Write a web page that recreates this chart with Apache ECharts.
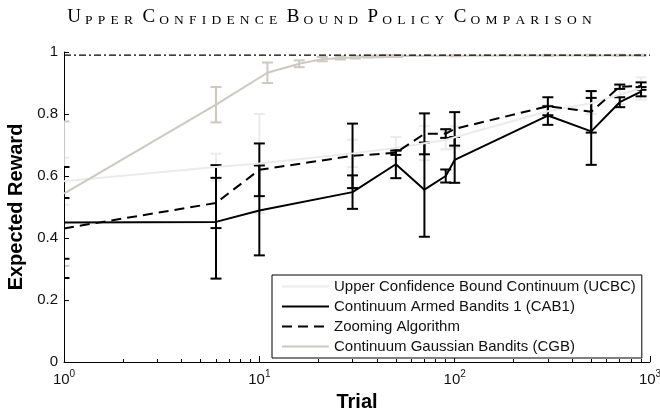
<!DOCTYPE html>
<html>
<head>
<meta charset="utf-8">
<script src="https://cdn.jsdelivr.net/npm/echarts@6/dist/echarts.min.js"></script>
<style>
  html, body { margin: 0; padding: 0; background: #fff; }
  #main { width: 660px; height: 414px; }
</style>
</head>
<body>
<div id="main"></div>
<script>
const titleText = 'Upper Confidence Bound Policy Comparison'

// trials where UCBC, CAB1 and zooming were measured
const trials = [1, 6, 10, 30, 50, 70, 90, 100, 300, 500, 700, 900]
const ucbcMean = [0.583, 0.629, 0.64, 0.673, 0.69, 0.706, 0.716, 0.725, 0.809, 0.835, 0.862, 0.882]
const ucbcErr = [0.076, 0.043, 0.16, 0.044, 0.036, 0.055, 0.03, 0.035, 0.02, 0.035, 0.03, 0.036]
const cab1Mean = [0.45, 0.452, 0.489, 0.548, 0.638, 0.556, 0.6, 0.652, 0.795, 0.744, 0.838, 0.872]
const cab1Err = [0.179, 0.183, 0.145, 0.054, 0.045, 0.152, 0.021, 0.074, 0.03, 0.108, 0.016, 0.015]
const zoomMean = [0.431, 0.513, 0.62, 0.665, 0.675, 0.736, 0.737, 0.752, 0.825, 0.807, 0.888, 0.89]
const zoomErr = [0.098, 0.081, 0.085, 0.104, 0.007, 0.066, 0.014, 0.054, 0.029, 0.067, 0.007, 0.012]

// CGB was sampled on its own grid
const cgbTrials = [1, 6, 11, 16, 21, 26, 31, 36, 41, 46, 51, 101, 301, 501, 701, 900]
const cgbMean = [0.543, 0.83, 0.933, 0.962, 0.977, 0.981, 0.983, 0.985, 0.986, 0.987, 0.987, 0.988, 0.989, 0.989, 0.989, 0.989]
const cgbErr = [0.233, 0.057, 0.033, 0.011, 0.007, 0.005, 0.004, 0.003, 0.003, 0.003, 0.003, 0.002, 0.002, 0.002, 0.002, 0.002]

const optimalReward = 0.99
const optimalTrials = [1, 1000]

const majorTicks = [1, 10, 100, 1000]
const minorTicks = [2, 3, 4, 5, 6, 7, 8, 9, 20, 30, 40, 50, 60, 70, 80, 90, 200, 300, 400, 500, 600, 700, 800, 900]

const UCBC = 'Upper Confidence Bound Continuum (UCBC)'
const CAB1 = 'Continuum Armed Bandits 1 (CAB1)'
const ZOOM = 'Zooming Algorithm'
const CGB = 'Continuum Gaussian Bandits (CGB)'

const SANS = 'Liberation Sans, Arial, Helvetica, sans-serif'
const SERIF = 'Liberation Serif, DejaVu Serif, serif'

// fake small caps with rich text tokens
function smallCaps(text) {
  return text.split(' ').map(word => {
    let s = '{a|' + word[0].toUpperCase() + '}'
    for (let i = 1; i < word.length; i++) {
      s += '{b|' + word[i].toUpperCase() + '}'
    }
    return s
  }).join('{sp| }')
}

function pairs(xs, ys) {
  return xs.map((x, i) => [x, ys[i]])
}

function errData(xs, mean, err) {
  return xs.map((x, i) => [x, mean[i] - err[i], mean[i] + err[i]])
}

function errorBars(name, xs, mean, err, color) {
  return {
    name: name,
    type: 'custom',
    clip: true,
    silent: true,
    data: errData(xs, mean, err),
    encode: { x: 0, y: [1, 2] },
    renderItem: function (params, api) {
      const x = api.value(0)
      const lo = api.coord([x, api.value(1)])
      const hi = api.coord([x, api.value(2)])
      const w = 5.5
      const style = { stroke: color, lineWidth: 2 }
      return {
        type: 'group',
        children: [
          { type: 'line', shape: { x1: lo[0], y1: lo[1], x2: hi[0], y2: hi[1] }, style: style },
          { type: 'line', shape: { x1: lo[0] - w, y1: lo[1], x2: lo[0] + w, y2: lo[1] }, style: style },
          { type: 'line', shape: { x1: hi[0] - w, y1: hi[1], x2: hi[0] + w, y2: hi[1] }, style: style }
        ]
      }
    }
  }
}

function lineSeries(name, xs, ys, color, type) {
  return {
    name: name,
    type: 'line',
    symbol: 'none',
    silent: true,
    data: pairs(xs, ys),
    lineStyle: { color: color, width: 2, type: type || 'solid' },
    itemStyle: { color: color }
  }
}

const chartDom = document.getElementById('main')
const myChart = echarts.init(chartDom, null, { renderer: 'canvas' })

const option = {
  animation: false,
  backgroundColor: '#fff',
  title: {
    text: smallCaps(titleText),
    left: 'center',
    top: 3,
    textStyle: {
      fontWeight: 'normal',
      rich: {
        a: { fontFamily: SERIF, fontSize: 19, fontWeight: 'normal', color: '#000', verticalAlign: 'bottom', padding: [0, 1.5] },
        b: { fontFamily: SERIF, fontSize: 13.5, fontWeight: 'normal', color: '#000', verticalAlign: 'bottom', padding: [0, 2.6] },
        sp: { fontFamily: SERIF, fontSize: 13.5, fontWeight: 'normal', verticalAlign: 'bottom', padding: [0, 1] }
      }
    }
  },
  legend: {
    data: [UCBC, CAB1, ZOOM, CGB],
    orient: 'vertical',
    left: 272,
    top: 275,
    itemWidth: 47,
    itemHeight: 14,
    itemGap: 5,
    padding: [4, 6, 4, 9],
    borderColor: '#000',
    borderWidth: 1,
    backgroundColor: '#fff',
    selectedMode: false,
    itemStyle: { opacity: 0 },
    textStyle: { fontFamily: SANS, fontSize: 15, color: '#111' }
  },
  grid: {
    left: 64,
    right: 10,
    top: 52,
    bottom: 52,
    outerBoundsMode: 'none'
  },
  xAxis: [
    {
      type: 'log',
      logBase: 10,
      min: 1,
      max: 1000,
      name: 'Trial',
      nameLocation: 'middle',
      nameGap: 30,
      nameTextStyle: { fontFamily: SANS, fontSize: 20, fontWeight: 'bold', color: '#000' },
      axisLine: { lineStyle: { color: '#000', width: 1 } },
      axisTick: { inside: true, length: 6, customValues: majorTicks, lineStyle: { color: '#000' } },
      axisLabel: {
        customValues: majorTicks,
        margin: 7,
        formatter: function (v) {
          return '{b|10}{s|' + Math.round(Math.log10(v)) + '}'
        },
        rich: {
          b: { fontFamily: SANS, fontSize: 15, color: '#111', lineHeight: 22 },
          s: { fontFamily: SANS, fontSize: 10, color: '#111', verticalAlign: 'top' }
        }
      },
      splitLine: { show: false }
    },
    {
      type: 'log',
      logBase: 10,
      min: 1,
      max: 1000,
      position: 'bottom',
      axisLine: { show: false },
      axisTick: { inside: true, length: 3, customValues: minorTicks, lineStyle: { color: '#000' } },
      axisLabel: { show: false },
      splitLine: { show: false }
    }
  ],
  yAxis: {
    type: 'value',
    min: 0,
    max: 1,
    interval: 0.2,
    name: 'Expected Reward',
    nameLocation: 'middle',
    nameGap: 33,
    nameTextStyle: { fontFamily: SANS, fontSize: 20, fontWeight: 'bold', color: '#000' },
    axisLine: { show: true, lineStyle: { color: '#000', width: 1 } },
    axisTick: { show: true, inside: true, length: 5, lineStyle: { color: '#000' } },
    axisLabel: {
      margin: 6,
      fontFamily: SANS,
      fontSize: 15,
      color: '#111',
      formatter: function (v) {
        return (v === 0 || v === 1) ? String(v) : v.toFixed(1)
      }
    },
    splitLine: { show: false }
  },
  series: [
    lineSeries(UCBC, trials, ucbcMean, '#ebebeb'),
    errorBars('UCBC err', trials, ucbcMean, ucbcErr, '#ebebeb'),
    lineSeries(CGB, cgbTrials, cgbMean, '#cdc9c0'),
    {
      name: 'optimal',
      type: 'line',
      symbol: 'none',
      silent: true,
      data: optimalTrials.map(x => [x, optimalReward]),
      lineStyle: { color: '#000', width: 1.2, type: [7, 3, 2, 3] }
    },
    errorBars('CGB err', cgbTrials, cgbMean, cgbErr, '#cdc9c0'),
    lineSeries(CAB1, trials, cab1Mean, '#000'),
    errorBars('CAB1 err', trials, cab1Mean, cab1Err, '#000'),
    lineSeries(ZOOM, trials, zoomMean, '#000', [10, 6]),
    errorBars('Zoom err', trials, zoomMean, zoomErr, '#000')
  ]
}

option && myChart.setOption(option)
</script>
</body>
</html>
